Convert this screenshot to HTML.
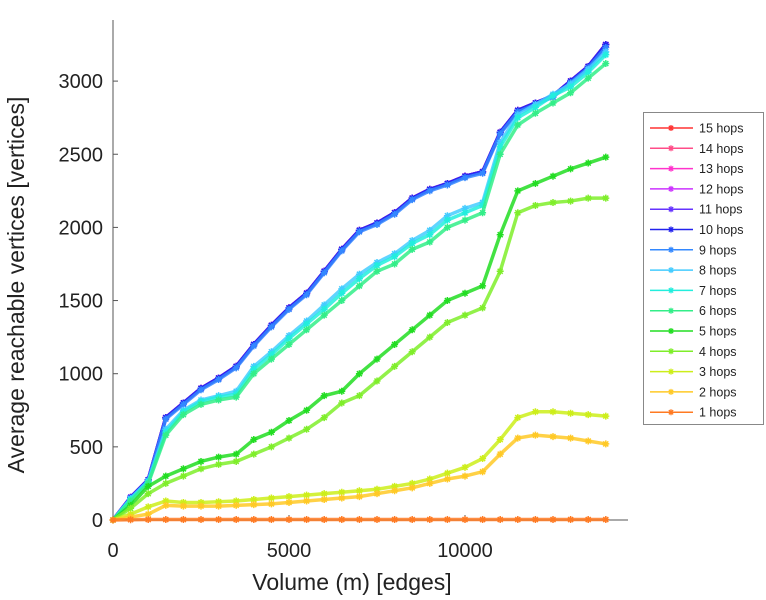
<!DOCTYPE html>
<html><head><meta charset="utf-8"><style>
body{margin:0;background:#fff;}
svg{display:block;font-family:"Liberation Sans",sans-serif;}
</style></head><body>
<svg id="chart" width="766" height="600" viewBox="0 0 766 600"></svg>
<script>
const xValues=[0,500,1000,1500,2000,2500,3000,3500,4000,4500,5000,5500,6000,6500,7000,7500,8000,8500,9000,9500,10000,10500,11000,11500,12000,12500,13000,13500,14000];
const hops1=[0,2,3,3,3,3,3,3,3,3,3,3,3,3,3,3,3,3,3,3,3,3,3,3,3,3,3,3,3];
const hops2=[0,20,40,100,95,95,95,100,105,110,120,130,140,150,160,180,200,220,250,280,300,330,450,560,580,570,560,540,520];
const hops3=[0,40,90,130,120,120,125,130,140,150,160,170,180,190,200,210,230,250,280,320,360,420,550,700,740,740,730,720,710];
const hops4=[0,80,180,250,300,350,380,400,450,500,560,620,700,800,850,950,1050,1150,1250,1350,1400,1450,1700,2100,2150,2170,2180,2200,2200];
const hops5=[0,100,230,300,350,400,430,450,550,600,680,750,850,880,1000,1100,1200,1300,1400,1500,1550,1600,1950,2250,2300,2350,2400,2440,2480];
const hops6=[0,130,250,580,720,790,820,840,1000,1100,1200,1300,1400,1500,1600,1700,1750,1850,1900,2000,2050,2100,2500,2700,2780,2850,2920,3020,3120];
const hops7=[0,140,260,600,740,810,840,860,1030,1130,1240,1340,1440,1550,1650,1740,1800,1890,1950,2050,2100,2150,2550,2750,2820,2900,2960,3060,3180];
const hops8=[0,145,265,620,750,820,850,880,1050,1150,1260,1360,1470,1580,1680,1760,1820,1910,1980,2080,2130,2170,2580,2770,2840,2910,2980,3080,3200];
const hops9=[0,150,270,690,790,890,960,1040,1190,1320,1440,1540,1690,1840,1970,2020,2090,2190,2250,2290,2340,2370,2640,2790,2840,2890,2990,3090,3230];
const hopsTop=[0,155,275,700,800,900,970,1050,1200,1330,1450,1550,1700,1850,1980,2030,2100,2200,2260,2300,2350,2380,2650,2800,2850,2900,3000,3100,3250];
const seriesNames=["1 hops","2 hops","3 hops","4 hops","5 hops","6 hops","7 hops","8 hops","9 hops","10 hops","11 hops","12 hops","13 hops","14 hops","15 hops"];
const seriesValues=[hops1,hops2,hops3,hops4,hops5,hops6,hops7,hops8,hops9,hopsTop,hopsTop,hopsTop,hopsTop,hopsTop,hopsTop];
const seriesColors=["#ff7a22","#ffc926","#cdee1a","#7fee2a","#22dd22","#33ee88","#22eedd","#44ccff","#3388ff","#2222ee","#6633ff","#cc33ff","#ff33cc","#ff4d88","#ff3333"];
const xTicks=[0,5000,10000];
const yTicks=[0,500,1000,1500,2000,2500,3000];

const NS="http://www.w3.org/2000/svg";
const svg=document.getElementById('chart');
const X0=113,PXX=0.0352,Y0=520,PXY=0.1463;
function sx(v){return X0+v*PXX;}
function sy(v){return Y0-v*PXY;}
function mk(tag,attrs,parent){const e=document.createElementNS(NS,tag);for(const k in attrs)e.setAttribute(k,attrs[k]);(parent||svg).appendChild(e);return e;}
function star(g,x,y,c,r,w){
  const q=r*0.72;
  const p=mk('path',{d:`M${x-r} ${y}H${x+r}M${x} ${y-r}V${y+r}M${x-q} ${y-q}L${x+q} ${y+q}M${x-q} ${y+q}L${x+q} ${y-q}`,stroke:c,'stroke-width':w,fill:'none'},g);
  
  
}
const axes=mk('g',{});


const ya=mk('line',{x1:X0,y1:20,x2:X0,y2:Y0,stroke:'#555','stroke-width':1},axes);


const xa=mk('line',{x1:X0,y1:Y0,x2:628,y2:Y0,stroke:'#555','stroke-width':1},axes);


xTicks.forEach(t=>{
  const l=mk('line',{x1:sx(t),y1:Y0,x2:sx(t),y2:Y0-5,stroke:'#555'},axes);
  
  
  const tx=mk('text',{x:sx(t),y:557,'text-anchor':'middle','font-size':20,fill:'#222'},axes);
  tx.textContent=t;
  
  
});
yTicks.forEach(t=>{
  const l=mk('line',{x1:X0,y1:sy(t),x2:X0+5,y2:sy(t),stroke:'#555'},axes);
  
  
  const tx=mk('text',{x:103,y:sy(t)+7,'text-anchor':'end','font-size':20,fill:'#222'},axes);
  tx.textContent=t;
  
  
});
const xt=mk('text',{x:352,y:590,'text-anchor':'middle','font-size':23,fill:'#222'});
xt.textContent='Volume (m) [edges]';


const yt=mk('text',{x:0,y:0,'text-anchor':'middle','font-size':23,fill:'#222',transform:'translate(24,285) rotate(-90)'});
yt.textContent='Average reachable vertices [vertices]';


for(let i=seriesValues.length-1;i>=0;i--){
  const vals=seriesValues[i];
  const g=mk('g',{});
  
  
  const c=seriesColors[i];
  const d=vals.map((v,j)=>(j?'L':'M')+sx(xValues[j])+' '+sy(v)).join('');
  const p=mk('path',{d:d,stroke:c,'stroke-width':3.5,fill:'none','stroke-linejoin':'round','stroke-opacity':0.85},g);
  
  
  vals.forEach((v,j)=>star(g,sx(xValues[j]),sy(v),c,3.5,1.5));
}
const lg=mk('g',{});


const box=mk('rect',{x:643.5,y:112.5,width:120,height:312,fill:'#fff',stroke:'#888','stroke-width':1},lg);


for(let k=0;k<15;k++){
  const i=14-k;
  const y=128+k*20.3;
  const e=mk('g',{},lg);
  
  
  mk('line',{x1:650,y1:y,x2:693,y2:y,stroke:seriesColors[i],'stroke-width':1.5},e);
  star(e,671,y,seriesColors[i],3,1.3);
  const t=mk('text',{x:699,y:y+4.5,'font-size':12.5,fill:'#222'},e);
  t.textContent=seriesNames[i];
  
  
}
</script>
</body></html>
